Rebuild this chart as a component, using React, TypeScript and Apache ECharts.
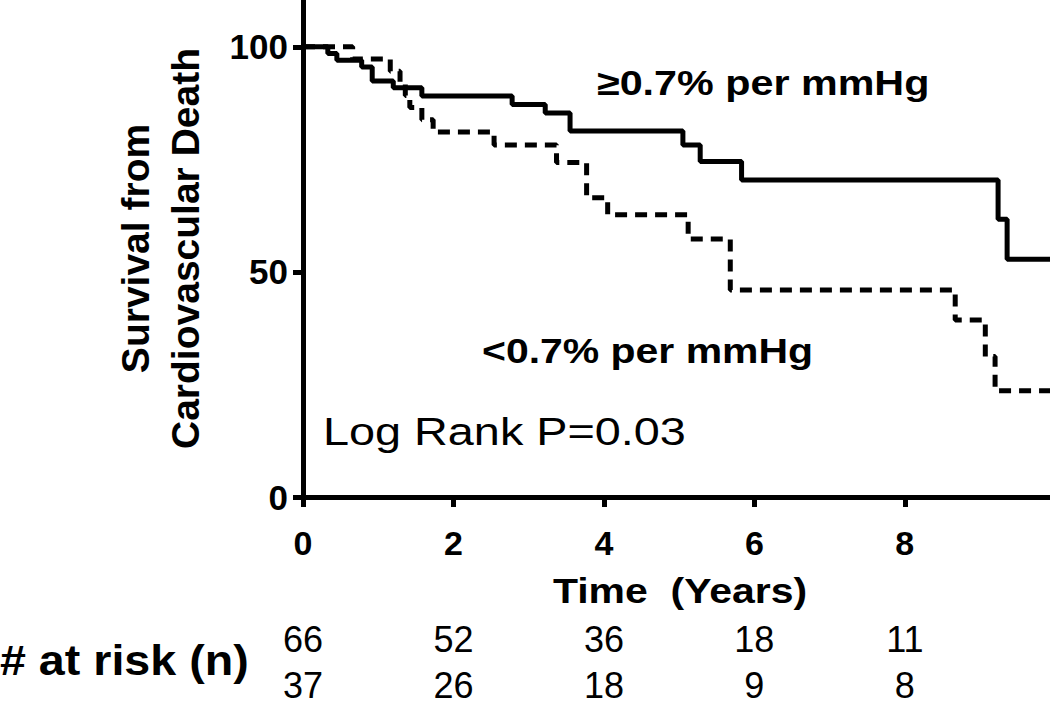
import React, { useEffect, useRef } from "react";
import * as echarts from "echarts";

// Kaplan–Meier step data (time in years, survival %)
const highTimes = [0, 0.33, 0.45, 0.78, 0.92, 1.2, 1.58, 2.78, 3.22, 3.55, 5.05, 5.28, 5.83, 9.24, 9.36, 9.93];
const highValues = [100, 98.5, 97, 95.5, 92.4, 90.9, 89.1, 87.2, 85.3, 81.3, 78.2, 74.5, 70.4, 61.7, 52.8, 52.8];

const lowTimes = [0, 0.66, 1.16, 1.29, 1.36, 1.42, 1.58, 1.73, 2.54, 3.37, 3.77, 4.05, 5.12, 5.68, 8.67, 9.07, 9.2, 9.93];
const lowValues = [100, 97.3, 94.6, 91.9, 89.2, 86.5, 83.8, 81.1, 78.2, 74.3, 66.5, 62.7, 57.3, 46.0, 39.3, 31.2, 23.6, 23.6];

const xTicks = [0, 2, 4, 6, 8];
const yTicks = [0, 50, 100];

const riskTimes = [0, 2, 4, 6, 8];
const riskHigh = [66, 52, 36, 18, 11];
const riskLow = [37, 26, 18, 9, 8];

const FONT = "'Liberation Sans', Arial, Helvetica, sans-serif";

export default function App() {
  const ref = useRef<HTMLDivElement>(null);

  useEffect(() => {
    if (!ref.current) return;
    const chart = echarts.init(ref.current, undefined, { renderer: "svg" });
    const highData = highTimes.map((t, i) => [t, highValues[i]]);
    const lowData = lowTimes.map((t, i) => [t, lowValues[i]]);

    chart.setOption({
      animation: false,
      backgroundColor: "#ffffff",
      grid: { left: 303, top: 0, width: 747, height: 497, containLabel: false },
      xAxis: {
        type: "value",
        min: 0,
        max: 9.93,
        axisLine: { show: true, lineStyle: { color: "#000", width: 5 } },
        axisTick: { show: true, customValues: xTicks, length: 10, lineStyle: { color: "#000", width: 5 } },
        axisLabel: {
          customValues: xTicks,
          margin: 29,
          fontFamily: FONT,
          fontWeight: "bold",
          fontSize: 34,
          color: "#000",
        },
        splitLine: { show: false },
      },
      yAxis: {
        type: "value",
        min: 0,
        max: 110.4,
        name: "Survival from\nCardiovascular Death",
        nameLocation: "middle",
        nameGap: 93,
        nameTextStyle: {
          fontFamily: FONT,
          fontWeight: "bold",
          fontSize: 39,
          lineHeight: 50,
          color: "#000",
          align: "center",
        },
        axisLine: { show: true, lineStyle: { color: "#000", width: 5 } },
        axisTick: { show: true, customValues: yTicks, length: 10, lineStyle: { color: "#000", width: 5 } },
        axisLabel: {
          customValues: yTicks,
          margin: 15,
          fontFamily: FONT,
          fontWeight: "bold",
          fontSize: 35,
          color: "#000",
        },
        splitLine: { show: false },
      },
      series: [
        {
          name: "≥0.7% per mmHg",
          type: "line",
          step: "end",
          data: highData,
          symbol: "none",
          lineStyle: { color: "#000", width: 5, type: "solid" },
          z: 3,
        },
        {
          name: "<0.7% per mmHg",
          type: "line",
          step: "end",
          data: lowData,
          symbol: "none",
          lineStyle: { color: "#000", width: 5, type: [12, 8], cap: "butt" },
          z: 2,
        },
      ],
    });

    const riskTexts: any[] = [];
    riskTimes.forEach((t, i) => {
      const x = chart.convertToPixel({ xAxisIndex: 0 }, t) as number;
      riskTexts.push({
        type: "text",
        x,
        y: 639,
        style: { text: String(riskHigh[i]), font: `36px ${FONT}`, lineHeight: 30, fill: "#000", align: "center", verticalAlign: "middle" },
      });
      riskTexts.push({
        type: "text",
        x,
        y: 685,
        style: { text: String(riskLow[i]), font: `36px ${FONT}`, lineHeight: 30, fill: "#000", align: "center", verticalAlign: "middle" },
      });
    });

    chart.setOption({
      graphic: [
        {
          type: "text",
          x: 597,
          y: 83,
          scaleX: 1.18,
          style: { text: "≥0.7% per mmHg", font: `bold 35px ${FONT}`, fill: "#000", align: "left", verticalAlign: "middle" },
        },
        {
          type: "text",
          x: 482,
          y: 351,
          scaleX: 1.17,
          style: { text: "<0.7% per mmHg", font: `bold 35px ${FONT}`, fill: "#000", align: "left", verticalAlign: "middle" },
        },
        {
          type: "text",
          x: 323,
          y: 431,
          scaleX: 1.2,
          style: { text: "Log Rank P=0.03", font: `39px ${FONT}`, fill: "#000", align: "left", verticalAlign: "middle" },
        },
        {
          type: "text",
          x: 680,
          y: 591,
          scaleX: 1.17,
          style: { text: "Time  (Years)", font: `bold 35px ${FONT}`, fill: "#000", align: "center", verticalAlign: "middle" },
        },
        {
          type: "text",
          x: 0,
          y: 660,
          scaleX: 1.11,
          style: { text: "# at risk (n)", font: `bold 42px ${FONT}`, fill: "#000", align: "left", verticalAlign: "middle" },
        },
        ...riskTexts,
      ],
    });

    return () => chart.dispose();
  }, []);

  return (
    <div
      ref={ref}
      style={{ position: "fixed", left: 0, top: 0, width: 1050, height: 706, background: "#fff" }}
    />
  );
}
